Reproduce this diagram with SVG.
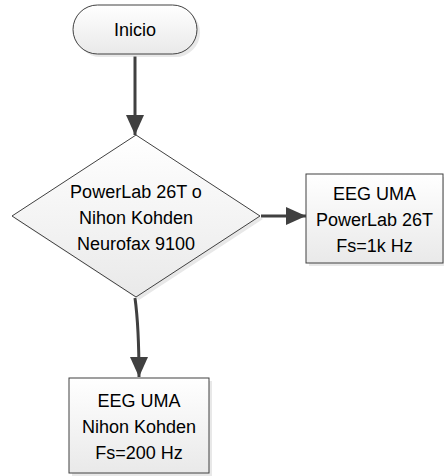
<svg xmlns="http://www.w3.org/2000/svg" width="444" height="476" viewBox="0 0 444 476">
<defs>
<linearGradient id="g" x1="0" y1="0" x2="0" y2="1">
<stop offset="0" stop-color="#ffffff"/>
<stop offset="1" stop-color="#e9e9e9"/>
</linearGradient>
<marker id="arr" markerWidth="20" markerHeight="18" refX="20" refY="9" orient="auto" markerUnits="userSpaceOnUse" viewBox="0 0 20 18">
<path d="M0,0 L20,9 L0,18 Z" fill="#404040"/>
</marker>
</defs>
<style>
.shape{fill:url(#g);stroke:#404040;stroke-width:1}
.shadow{fill:#d8d8d8;opacity:0.6}
.t{font-family:"Liberation Sans",Arial,sans-serif;font-size:18px;fill:#000;text-anchor:middle}
.c{fill:none;stroke:#404040;stroke-width:3;marker-end:url(#arr)}
</style>
<g id="connectors">
<path class="c" d="M135,56 L135,135"/>
<path class="c" d="M261,216 L306,216"/>
<path class="c" d="M135,298 C138,320 139,340 139,377"/>
</g>
<g id="inicio">
<rect class="shadow" x="76" y="8" width="124" height="49" rx="24.5"/>
<rect class="shape" x="73" y="5" width="124" height="49" rx="24.5"/>
<text class="t" x="135" y="36">Inicio</text>
</g>
<g id="decision">
<path class="shadow" d="M139,138 L263,219 L139,300 L15,219 Z"/>
<path class="shape" d="M136,135 L260,216 L136,297 L12,216 Z"/>
<text class="t" x="136" y="198">PowerLab 26T o</text>
<text class="t" x="136" y="224">Nihon Kohden</text>
<text class="t" x="136" y="250">Neurofax 9100</text>
</g>
<g id="powerlab">
<rect class="shadow" x="309" y="177" width="137" height="89"/>
<rect class="shape" x="306" y="174" width="137" height="89"/>
<text class="t" x="374.5" y="200">EEG UMA</text>
<text class="t" x="374.5" y="226">PowerLab 26T</text>
<text class="t" x="374.5" y="252">Fs=1k Hz</text>
</g>
<g id="nihon">
<rect class="shadow" x="72" y="381" width="140" height="95"/>
<rect class="shape" x="69" y="378" width="140" height="95"/>
<text class="t" x="139" y="407">EEG UMA</text>
<text class="t" x="139" y="433">Nihon Kohden</text>
<text class="t" x="139" y="459">Fs=200 Hz</text>
</g>
</svg>
